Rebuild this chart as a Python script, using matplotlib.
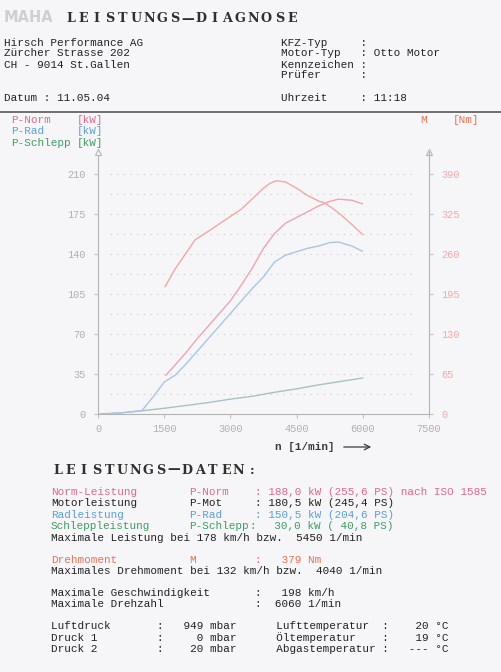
import matplotlib

matplotlib.use("Agg")
import matplotlib.pyplot as plt

W, H = 502, 672

MONO = "Liberation Mono"
FS = 7.88          # Liberation Mono advance = 0.6 em -> 6.57 px per column
CW = 6.57

PAPER = "#f6f6f8"
INK = "#222222"
PINK = "#e2678a"
BLUE = "#5b9fd8"
GREEN = "#3f9c62"
ORANGE = "#ea7052"
AXIS_GRAY = "#b4b4b4"

# --- curve data ---
rpm_norm = [1540, 1750, 2000, 2250, 2500, 2750, 3000, 3250, 3500, 3750, 4000,
            4250, 4500, 4750, 5000, 5250, 5450, 5750, 5990]
p_norm = [34, 43, 54, 66, 77, 88, 99, 113, 128, 145, 158,
          167, 172, 177, 182, 186, 188, 187, 184]

rpm_rad = [150, 500, 750, 1000, 1250, 1500, 1750, 2000, 2250, 2500, 2750, 3000,
           3250, 3500, 3750, 4000, 4250, 4500, 4750, 5000, 5250, 5450, 5750, 5990]
p_rad = [0, 0.8, 1.8, 3.2, 15, 28, 34, 44, 55, 66, 77, 88,
         99, 110, 120, 133, 139, 142, 145, 147, 150, 150.5, 147, 142.5]

rpm_schlepp = [0, 500, 1000, 1500, 2000, 2500, 3000, 3500, 4000, 4500, 5000, 5500, 6000]
p_schlepp = [0, 1, 2.8, 5, 7.5, 10, 13, 15.5, 19, 22, 25.5, 28.5, 31.5]

rpm_torque = [1520, 1750, 2000, 2200, 2500, 2750, 3000, 3250, 3500, 3750, 3900,
              4040, 4250, 4500, 4750, 5000, 5100, 5300, 5500, 5750, 5990]
torque = [207, 236, 262, 283, 297, 309, 321, 333, 350, 367, 375,
          379, 377, 367, 355, 346, 344, 335, 324, 308, 292]

kw_ticks = [0, 35, 70, 105, 140, 175, 210]
nm_ticks = [0, 65, 130, 195, 260, 325, 390]
rpm_ticks = [0, 1500, 3000, 4500, 6000, 7500]

fig = plt.figure(figsize=(W / 100, H / 100), dpi=100)
fig.patch.set_facecolor(PAPER)

bg = fig.add_axes([0, 0, 1, 1])
bg.set_xlim(0, W)
bg.set_ylim(H, 0)
bg.axis("off")


def put(x, y, s, color=INK, size=FS, **kw):
    bg.text(x, y, s, fontsize=size, family=MONO, color=color,
            va="center", ha="left", **kw)


def row(x0, y, segments):
    for col, text, color in segments:
        put(x0 + col * CW, y, text, color)


def spaced(x0, y, text, pitch):
    for i, ch in enumerate(text):
        bg.text(x0 + pitch * i + pitch / 2, y, ch, fontsize=9.2,
                family="DejaVu Serif", weight="bold", color="#303030",
                ha="center", va="center")


# --- header ---
bg.text(4, 18, "MAHA", fontsize=10.5, family="DejaVu Sans", weight="bold",
        color="#cfcfd2", va="center", ha="left")
spaced(64, 19, "LEISTUNGS\u2014DIAGNOSE", 13.05)

put(4, 42.5, "Hirsch Performance AG")
put(4, 53.5, "Zürcher Strasse 202")
put(4, 64.5, "CH - 9014 St.Gallen")
put(4, 98, "Datum : 11.05.04")
put(281, 42.5, "KFZ-Typ     :")
put(281, 53.5, "Motor-Typ   : Otto Motor")
put(281, 64.5, "Kennzeichen :")
put(281, 75.5, "Prüfer      :")
put(281, 98, "Uhrzeit     : 11:18")

bg.plot([0, W], [112, 112], color="#4a4a4a", lw=1.1)

# --- legend of the chart ---
row(11, 120, [(0, "P-Norm", PINK), (10, "[kW]", PINK)])
row(11, 131.5, [(0, "P-Rad", BLUE), (10, "[kW]", BLUE)])
row(11, 143, [(0, "P-Schlepp", GREEN), (10, "[kW]", GREEN)])
put(420, 120, "M", ORANGE)
put(453, 120, "[Nm]", ORANGE)

# --- chart ---
top_px = 152
ax = fig.add_axes([98 / W, 1 - 414 / H, 331 / W, (414 - top_px) / H])
ax.patch.set_visible(False)
ymax = (414 - top_px) * 35 / 40
ax.set_xlim(0, 7500)
ax.set_ylim(0, ymax)
ax2 = ax.twinx()
ax2.set_ylim(0, ymax * 390 / 210)

for a in (ax, ax2):
    for s in a.spines.values():
        s.set_visible(False)
        s.set_color(AXIS_GRAY)
        s.set_linewidth(0.8)
ax.spines["left"].set_visible(True)
ax.spines["bottom"].set_visible(True)
ax2.spines["right"].set_visible(True)

ax.set_xticks(rpm_ticks)
ax.set_xticklabels([str(v) for v in rpm_ticks], family=MONO, fontsize=7.4,
                   color="#b0b0b0")
ax.set_yticks(kw_ticks)
ax.set_yticklabels([str(v) for v in kw_ticks], family=MONO, fontsize=7.4,
                   color="#b0b0b0")
ax2.set_yticks(nm_ticks)
ax2.set_yticklabels([str(v) for v in nm_ticks], family=MONO, fontsize=7.4,
                    color="#f2aaa2")
ax.tick_params(axis="y", length=3, pad=6, color="#c0c0c0", width=0.8)
ax.tick_params(axis="x", length=3, pad=4, color="#c0c0c0", width=0.8)
ax2.tick_params(axis="y", length=3, pad=6, color="#c0c0c0", width=0.8)

for k in range(1, 13):
    ax.axhline(17.5 * k, xmin=0.035, xmax=0.96, color="#c9c9cc", lw=0.8,
               ls=(0, (1, 5)), zorder=0)

for xa in (0, 1):
    ax.plot([xa], [1], transform=ax.transAxes, marker="^", ms=4,
            mfc=PAPER, mec=AXIS_GRAY, mew=0.8, clip_on=False, zorder=5)

ax.plot(rpm_schlepp, p_schlepp, color="#a6c2c4", lw=1.0, zorder=3)
ax.plot(rpm_rad, p_rad, color="#a9c6e6", lw=1.0, zorder=3)
ax.plot(rpm_norm, p_norm, color="#f1a3b2", lw=1.0, zorder=3)
ax2.plot(rpm_torque, torque, color="#f2a8a2", lw=1.0, zorder=3)

# x axis label
bg.text(275, 447, "n [1/min]", fontsize=FS, family=MONO, weight="bold",
        color="#3a3a3a", va="center", ha="left")
bg.annotate("", xy=(374, 447), xytext=(341, 447),
            arrowprops=dict(arrowstyle="->", lw=0.9, color="#3a3a3a"))

# --- data block ---
spaced(51, 470, "LEISTUNGS\u2014DATEN:", 12.95)

x0 = 51
row(x0, 492, [(0, "Norm-Leistung", PINK), (21, "P-Norm", PINK),
              (31, ": 188,0 kW (255,6 PS) nach ISO 1585", PINK)])
row(x0, 503.5, [(0, "Motorleistung", INK), (21, "P-Mot", INK),
                (31, ": 180,5 kW (245,4 PS)", INK)])
row(x0, 515, [(0, "Radleistung", BLUE), (21, "P-Rad", BLUE),
              (31, ": 150,5 kW (204,6 PS)", BLUE)])
row(x0, 526.3, [(0, "Schleppleistung", GREEN), (21, "P-Schlepp", GREEN),
                (30.2, ":", GREEN), (32, "  30,0 kW ( 40,8 PS)", GREEN)])
row(x0, 537.7, [(0, "Maximale Leistung bei 178 km/h bzw.  5450 1/min", INK)])

row(x0, 559.7, [(0, "Drehmoment", ORANGE), (21, "M", ORANGE),
                (31, ":   379 Nm", ORANGE)])
row(x0, 571, [(0, "Maximales Drehmoment bei 132 km/h bzw.  4040 1/min", INK)])

row(x0, 593, [(0, "Maximale Geschwindigkeit", INK), (31, ":   198 km/h", INK)])
row(x0, 604, [(0, "Maximale Drehzahl", INK), (31, ":  6060 1/min", INK)])

row(x0, 626, [(0, "Luftdruck       :   949 mbar      Lufttemperatur  :    20 °C", INK)])
row(x0, 637.3, [(0, "Druck 1         :     0 mbar      Öltemperatur    :    19 °C", INK)])
row(x0, 648.7, [(0, "Druck 2         :    20 mbar      Abgastemperatur :   --- °C", INK)])

fig.savefig("out.png", dpi=100, facecolor=PAPER)
